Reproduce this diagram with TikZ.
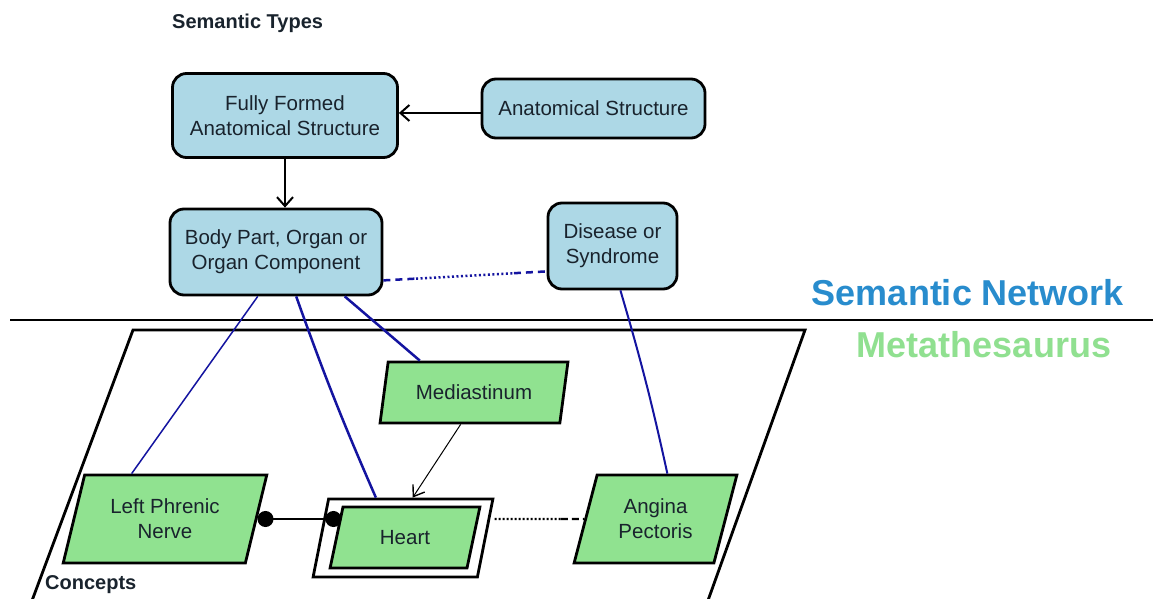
\documentclass[tikz,border=0pt]{standalone}
\usepackage{fontspec}
\setmainfont{Liberation Sans}
\usetikzlibrary{shapes.geometric,arrows.meta,calc}
\definecolor{boxblue}{RGB}{173,216,230}
\definecolor{cgreen}{RGB}{144,226,144}
\definecolor{snblue}{RGB}{40,140,205}
\definecolor{mtgreen}{RGB}{144,224,144}
\definecolor{navyline}{RGB}{20,20,160}
\definecolor{txt}{RGB}{25,35,45}
\newcommand{\boxfont}{\fontsize{20.5}{25}\selectfont}
\begin{document}
\begin{tikzpicture}[x=1pt,y=-1pt,
  stype/.style={draw, line width=2.8pt, rounded corners=14pt, fill=boxblue, align=center, font=\boxfont, text=txt, inner sep=0pt},
  concept/.style={trapezium, trapezium left angle=70, trapezium right angle=110, trapezium stretches=true, draw, line width=2.8pt, fill=cgreen, align=center, font=\boxfont, text=txt, inner sep=0pt},
  arr/.style={line width=2pt, -{Straight Barb[length=9pt,width=16pt,line width=2pt]}},
  thinarr/.style={line width=1pt, -{Straight Barb[length=10pt,width=14pt,line width=1.4pt]}},
  bluethick/.style={navyline, line width=2.5pt},
  bluethin/.style={navyline, line width=1.5pt},
  title/.style={font=\bfseries\fontsize{20}{22}\selectfont, text=txt, inner sep=0pt},
  big/.style={font=\bfseries\fontsize{36}{40}\selectfont, inner sep=0pt}
]
\useasboundingbox[fill=white] (0,0) rectangle (1153,599);

% separator and concepts frame
\draw[line width=2.8pt] (10,320) -- (1153,320);
\draw[line width=2.8pt, line join=miter] (30,606) -- (133,330) -- (805,330) -- (706,606);

% labels
\node[title, anchor=base west] (st) at (172,29) {Semantic Types};
\node[big, anchor=base, text=snblue] (sn) at (968,305) {Semantic Network};
\node[big, anchor=base, text=mtgreen] (mt) at (984,357) {Metathesaurus};
\node[title, anchor=base west] (cc) at (45,589) {Concepts};

% semantic types
\node[stype, minimum width=225pt, minimum height=84pt] (ff) at (285,115.5) {Fully Formed\\Anatomical Structure};
\node[stype, minimum width=223pt, minimum height=59pt] (as) at (593.5,108.5) {Anatomical Structure};
\node[stype, minimum width=212pt, minimum height=86pt] (bp) at (276,252) {Body Part, Organ or\\Organ Component};
\node[stype, minimum width=129pt, minimum height=86pt] (ds) at (612.5,246) {Disease or\\Syndrome};

% concepts
\node[concept, minimum width=188pt, minimum height=61pt] (med) at (474,392.5) {Mediastinum};
\node[concept, minimum width=204pt, minimum height=88pt] (lpn) at (165,519) {Left Phrenic\\Nerve};
\node[concept, fill=white, minimum width=180pt, minimum height=78pt] (heartouter) at (403,538) {\phantom{Heart}};
\node[concept, minimum width=150pt, minimum height=61pt] (heart) at (405,537.5) {Heart};
\node[concept, minimum width=163pt, minimum height=88pt] (ang) at (655.5,519) {Angina\\Pectoris};

% semantic network connectors
\draw[arr] ($(as.west)+(0,4.5)$) -- ($(as.west -| ff.east)+(0,4.5)$);
\draw[arr] (ff.south) -- (ff.south |- bp.north);

\coordinate (p1) at ($(bp.south east)+(0,-16)$);
\coordinate (p2) at ($(ds.south west)+(0,-19)$);
\draw[navyline, line width=2.5pt, dash pattern=on 7pt off 5pt] (p1) -- ($(p1)!0.2!(p2)$);
\draw[navyline, line width=2.5pt, dash pattern=on 2pt off 2.5pt] ($(p1)!0.2!(p2)$) -- ($(p1)!0.8!(p2)$);
\draw[navyline, line width=2.5pt, dash pattern=on 7pt off 5pt] ($(p1)!0.8!(p2)$) -- (p2);

% links between layers
\draw[bluethin] ($(bp.south west)!0.415!(bp.south east)$) -- ($(lpn.top left corner)!0.26!(lpn.top right corner)$);
\draw[bluethick] ($(bp.south west)!0.594!(bp.south east)$) to[bend right=2] ($(heartouter.top left corner)!0.29!(heartouter.top right corner)$);
\draw[bluethick] ($(bp.south west)!0.82!(bp.south east)$) -- ($(med.top left corner)!0.18!(med.top right corner)$);
\draw[navyline, line width=2pt] ($(ds.south west)!0.56!(ds.south east)$) to[bend left=2] ($(ang.top left corner)!0.5!(ang.top right corner)$);

% concept connectors
\draw[thinarr] ($(med.bottom left corner)!0.45!(med.bottom right corner)$) -- ($(heartouter.top left corner)!0.51!(heartouter.top right corner)$);
\draw[line width=2.2pt, {Circle[length=16pt,width=16pt]}-{Circle[length=16pt,width=16pt]}] (lpn.east) -- ($(lpn.east -| heartouter.west)+(22,0)$);
\coordinate (h1) at ($(ang.west -| heartouter.east)+(8,0)$);
\draw[line width=2.2pt, dash pattern=on 2pt off 2pt] (h1) -- ($(h1)!0.74!(ang.west)$);
\draw[line width=2.2pt, dash pattern=on 7pt off 4pt] ($(h1)!0.74!(ang.west)$) -- (ang.west);
\end{tikzpicture}
\end{document}
